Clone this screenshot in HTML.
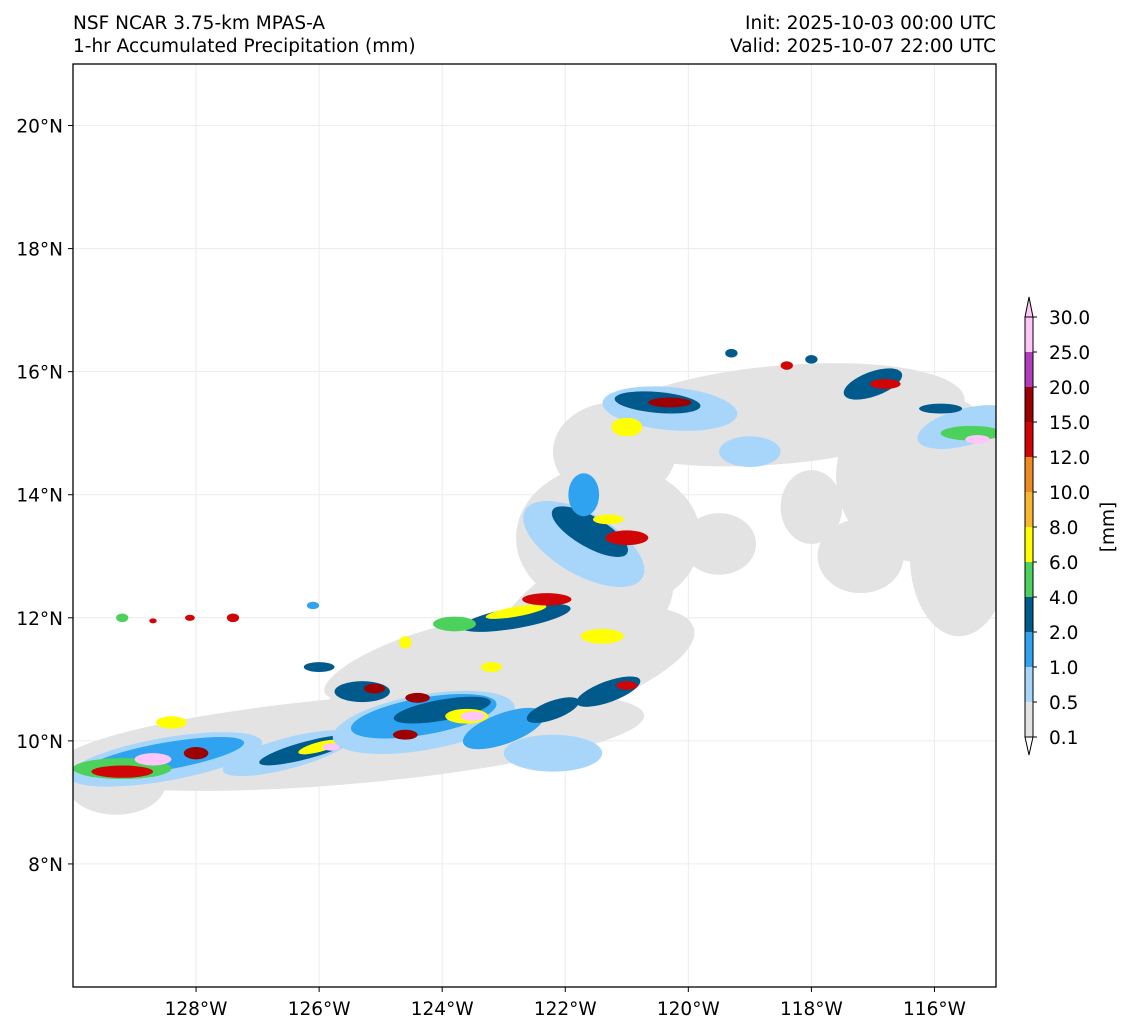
<!DOCTYPE html>
<html><head><meta charset="utf-8"><style>
body{margin:0;background:#fff;font-family:"DejaVu Sans","Liberation Sans",sans-serif;}
svg text{font-family:"DejaVu Sans","Liberation Sans",sans-serif;fill:#000;}
</style></head><body>
<svg id="c" width="1133" height="1032" xmlns="http://www.w3.org/2000/svg">
<text x="73" y="29" font-size="18.5">NSF NCAR 3.75-km MPAS-A</text>
<text x="73" y="52" font-size="18.5">1-hr Accumulated Precipitation (mm)</text>
<text x="996" y="29" font-size="18.5" text-anchor="end">Init: 2025-10-03 00:00 UTC</text>
<text x="996" y="52" font-size="18.5" text-anchor="end">Valid: 2025-10-07 22:00 UTC</text>
<defs><clipPath id="mc"><rect x="73" y="64" width="923" height="923"/></clipPath></defs>
<g id="grid"></g>
<g id="map" clip-path="url(#mc)"></g>
<rect x="73" y="64" width="923" height="923" fill="none" stroke="#000" stroke-width="1.3"/>
<g id="axes"></g>
<g id="cbar"></g>
<text transform="translate(1114,527) rotate(-90)" font-size="18.5" text-anchor="middle">[mm]</text>
</svg>
<script>
const levels=[0.1,0.5,1.0,2.0,4.0,6.0,8.0,10.0,12.0,15.0,20.0,25.0,30.0];
const colors=["#e3e3e3","#a8d6fa","#2fa3f0","#005a8c","#4cd15c","#ffff00","#f8b731","#ee8a22","#d10505","#9c0000","#b33bbd","#ffc6fa"];
const lonTicks=[-128,-126,-124,-122,-120,-118,-116];
const latTicks=[8,10,12,14,16,18,20];
// regions: [lon, lat, rxDeg, ryDeg, rotationDeg, levelIndex]
const grayAreas=[[-125.5,10.0,4.8,0.7,-5,0],[-123,11.0,3.2,0.9,-15,0],[-121.7,12.0,1.6,0.9,-30,0],[-121.3,13.3,1.5,1.2,0,0],[-121.2,14.7,1.0,0.8,0,0],[-118.5,15.3,3.0,0.8,-5,0],[-116.2,14.3,1.4,1.4,0,0],[-115.6,13.0,0.8,1.3,0,0],[-117.2,13.0,0.7,0.6,0,0],[-118.0,13.8,0.5,0.6,0,0],[-124.5,11.3,1.5,0.4,-20,0],[-129.3,9.3,0.8,0.5,0,0],[-119.5,13.2,0.6,0.5,0,0]];
const blobs=[
[-128.5,9.7,1.6,0.35,-10,1],[-128.5,9.75,1.3,0.22,-10,2],[-129.2,9.55,0.8,0.17,0,4],[-129.2,9.5,0.5,0.1,0,8],[-128.7,9.7,0.3,0.1,0,11],[-128.4,10.3,0.25,0.1,0,5],[-128.0,9.8,0.2,0.1,0,9],
[-126.5,9.8,1.1,0.25,-15,1],[-126.2,9.85,0.8,0.14,-15,3],[-126.0,9.9,0.35,0.08,-15,5],[-125.8,9.9,0.15,0.06,0,11],
[-124.3,10.3,1.5,0.45,-10,1],[-124.3,10.4,1.2,0.3,-10,2],[-124.0,10.5,0.8,0.17,-10,3],[-123.6,10.4,0.35,0.12,0,5],[-123.5,10.4,0.2,0.08,0,11],[-124.4,10.7,0.2,0.08,0,9],[-124.6,10.1,0.2,0.08,0,9],[-123.0,10.2,0.7,0.25,-20,2],[-122.2,10.5,0.45,0.15,-20,3],
[-125.3,10.8,0.45,0.17,0,3],[-125.1,10.85,0.17,0.08,0,9],[-122.2,9.8,0.8,0.3,0,1],[-121.3,10.8,0.55,0.17,-20,3],[-121.0,10.9,0.17,0.07,0,8],
[-122.8,12.0,0.9,0.17,-10,3],[-122.8,12.1,0.5,0.08,-10,5],[-122.3,12.3,0.4,0.1,0,8],[-123.8,11.9,0.35,0.12,0,4],[-121.4,11.7,0.35,0.12,0,5],[-123.2,11.2,0.17,0.08,0,5],
[-121.7,13.2,1.1,0.5,30,1],[-121.6,13.4,0.7,0.25,30,3],[-121.0,13.3,0.35,0.12,0,8],[-121.3,13.6,0.25,0.08,0,5],[-121.7,14.0,0.25,0.35,0,2],
[-120.3,15.4,1.1,0.35,5,1],[-120.5,15.5,0.7,0.17,5,3],[-120.3,15.5,0.35,0.08,0,9],[-121.0,15.1,0.25,0.15,0,5],[-119.0,14.7,0.5,0.25,0,1],
[-117.0,15.8,0.5,0.2,-20,3],[-116.8,15.8,0.25,0.08,0,8],[-115.5,15.1,0.8,0.3,-15,1],[-115.4,15.0,0.5,0.12,0,4],[-115.3,14.9,0.2,0.07,0,11],[-115.9,15.4,0.35,0.08,0,3],
[-118.4,16.1,0.1,0.07,0,8],[-118.0,16.2,0.1,0.07,0,3],[-119.3,16.3,0.1,0.07,0,3],
[-129.2,12.0,0.1,0.07,0,4],[-128.7,11.95,0.06,0.04,0,8],[-128.1,12.0,0.08,0.05,0,8],[-127.4,12.0,0.1,0.07,0,8],[-126.1,12.2,0.1,0.06,0,2],[-124.6,11.6,0.1,0.1,0,5],[-126.0,11.2,0.25,0.08,0,3]
];
const NS="http://www.w3.org/2000/svg";
const X0=73,W=923,Y0=64,H=923;
function xs(lon){return X0+(lon+130)/15*W;}
function ys(lat){return Y0+(21-lat)/15*H;}
const sc=W/15;
const mapG=document.getElementById('map');
function ell(a,fill,name){
  const e=document.createElementNS(NS,'ellipse');
  e.setAttribute('cx',xs(a[0]));e.setAttribute('cy',ys(a[1]));
  e.setAttribute('rx',a[2]*sc);e.setAttribute('ry',a[3]*sc);
  e.setAttribute('transform','rotate('+a[4]+' '+xs(a[0])+' '+ys(a[1])+')');
  e.setAttribute('fill',fill);
  
  
  mapG.appendChild(e);
}
grayAreas.forEach(a=>ell(a,colors[a[5]],'light-precip-area'));
blobs.forEach(a=>ell(a,colors[a[5]],'precip-cell'));
const gridG=document.getElementById('grid'),axesG=document.getElementById('axes');
function ln(g,x1,y1,x2,y2,st,sw,name){const l=document.createElementNS(NS,'line');l.setAttribute('x1',x1);l.setAttribute('y1',y1);l.setAttribute('x2',x2);l.setAttribute('y2',y2);l.setAttribute('stroke',st);l.setAttribute('stroke-width',sw);


g.appendChild(l);}
function tx(g,x,y,s,anchor,name){const t=document.createElementNS(NS,'text');t.setAttribute('x',x);t.setAttribute('y',y);t.setAttribute('font-size','18.5');t.setAttribute('text-anchor',anchor);t.textContent=s;


g.appendChild(t);}
lonTicks.forEach(l=>{const x=xs(l);ln(gridG,x,Y0,x,Y0+H,'#ececec',1,'lon-gridline');ln(axesG,x,Y0+H,x,Y0+H+5,'#000',1,'x-tick');tx(axesG,x,Y0+H+28,(-l)+'°W','middle','x-tick-label');});
latTicks.forEach(l=>{const y=ys(l);ln(gridG,X0,y,X0+W,y,'#ececec',1,'lat-gridline');ln(axesG,X0-5,y,X0,y,'#000',1,'y-tick');tx(axesG,X0-10,y+7,l+'°N','end','y-tick-label');});
const cb=document.getElementById('cbar');
const cx=1025,cw=8,cTop=317,step=35;
for(let i=0;i<colors.length;i++){
  const y0=cTop+(colors.length-1-i)*step;
  const r=document.createElementNS(NS,'rect');r.setAttribute('x',cx);r.setAttribute('y',y0);r.setAttribute('width',cw);r.setAttribute('height',step);r.setAttribute('fill',colors[i]);
  
  
  cb.appendChild(r);
}
const topTri=document.createElementNS(NS,'polygon');topTri.setAttribute('points',`${cx},${cTop} ${cx+cw/2},${cTop-20} ${cx+cw},${cTop}`);topTri.setAttribute('fill',colors[11]);topTri.setAttribute('stroke','#000');


cb.appendChild(topTri);
const botTri=document.createElementNS(NS,'polygon');botTri.setAttribute('points',`${cx},737 ${cx+cw/2},755 ${cx+cw},737`);botTri.setAttribute('fill','#fff');botTri.setAttribute('stroke','#000');


cb.appendChild(botTri);
const fr=document.createElementNS(NS,'rect');fr.setAttribute('x',cx);fr.setAttribute('y',cTop);fr.setAttribute('width',cw);fr.setAttribute('height',737-cTop);fr.setAttribute('fill','none');fr.setAttribute('stroke','#000');


cb.appendChild(fr);
levels.forEach((v,i)=>{const y=737-i*step;ln(cb,cx+cw,y,cx+cw+4,y,'#000',1,'colorbar-tick');tx(cb,1049,y+7,v.toFixed(1),'start','colorbar-tick-label');});
</script>
</body></html>
